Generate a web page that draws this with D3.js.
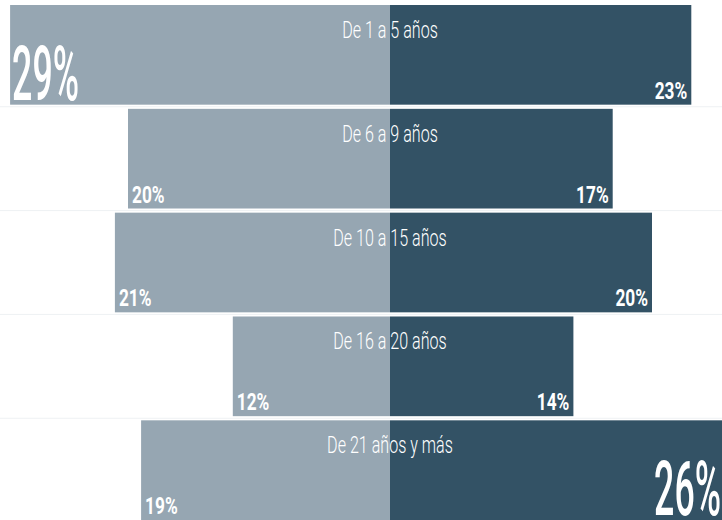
<!DOCTYPE html>
<html>
<head>
<meta charset="utf-8">
<script src="https://cdn.jsdelivr.net/npm/d3@7"></script>
<style>
  html, body { margin: 0; padding: 0; background: #ffffff; }
  svg { display: block; }
  text { font-family: Roboto, "Liberation Sans", sans-serif; fill: #ffffff; }
</style>
</head>
<body>
<svg id="chart" width="722" height="520"></svg>
<script>
const categories = ["De 1 a 5 años", "De 6 a 9 años", "De 10 a 15 años", "De 16 a 20 años", "De 21 años y más"];
const leftValues = [29, 20, 21, 12, 19];
const rightValues = [23, 17, 20, 14, 26];

const W = 722, H = 520, center = 390;
const svg = d3.select("#chart");

const y = d3.scaleBand().domain(categories).range([5, 520]).paddingInner(0.04).paddingOuter(0);
const xl = d3.scaleLinear().domain([0, 30]).range([center, center - 393]);
const xr = d3.scaleLinear().domain([0, 30]).range([center, center + 393]);

const rows = categories.map((c, i) => ({ c, l: leftValues[i], r: rightValues[i] }));
const maxL = d3.max(leftValues), maxR = d3.max(rightValues);

// faint separators
svg.selectAll("line.sep").data(categories.slice(0, -1)).join("line")
  .attr("x1", 0).attr("x2", W)
  .attr("y1", d => y(d) + y.bandwidth() + y.step() * 0.02)
  .attr("y2", d => y(d) + y.bandwidth() + y.step() * 0.02)
  .attr("stroke", "#eef1f3").attr("stroke-width", 1);

const g = svg.selectAll("g.row").data(rows).join("g").attr("class", "row");

g.append("rect")
  .attr("x", d => xl(d.l)).attr("y", d => y(d.c))
  .attr("width", d => center - xl(d.l)).attr("height", y.bandwidth())
  .attr("fill", "#96a6b2");

g.append("rect")
  .attr("x", center).attr("y", d => y(d.c))
  .attr("width", d => xr(d.r) - center).attr("height", y.bandwidth())
  .attr("fill", "#335265");

// category labels
g.append("text")
  .attr("transform", d => `translate(${center},${y(d.c) + 33}) scale(0.7,1)`)
  .attr("text-anchor", "middle")
  .attr("font-size", 23).attr("font-weight", 300)
  .attr("fill", "#f4f6f8")
  .text(d => d.c);

// left percentages
g.append("text")
  .attr("transform", d => d.l === maxL
    ? `translate(${xl(d.l) + 2},${y(d.c) + y.bandwidth() - 5}) scale(0.47,1)`
    : `translate(${xl(d.l) + 4},${y(d.c) + y.bandwidth() - 6}) scale(0.72,1)`)
  .attr("text-anchor", "start")
  .attr("font-size", d => d.l === maxL ? 76 : 24)
  .attr("font-weight", d => d.l === maxL ? 500 : 700)
  .text(d => d.l + "%");

// right percentages
g.append("text")
  .attr("transform", d => d.r === maxR
    ? `translate(${Math.min(xr(d.r) - 4, W - 1)},${y(d.c) + y.bandwidth() - 5}) scale(0.47,1)`
    : `translate(${xr(d.r) - 4},${y(d.c) + y.bandwidth() - 6}) scale(0.72,1)`)
  .attr("text-anchor", "end")
  .attr("font-size", d => d.r === maxR ? 76 : 24)
  .attr("font-weight", d => d.r === maxR ? 500 : 700)
  .text(d => d.r + "%");
</script>
</body>
</html>
